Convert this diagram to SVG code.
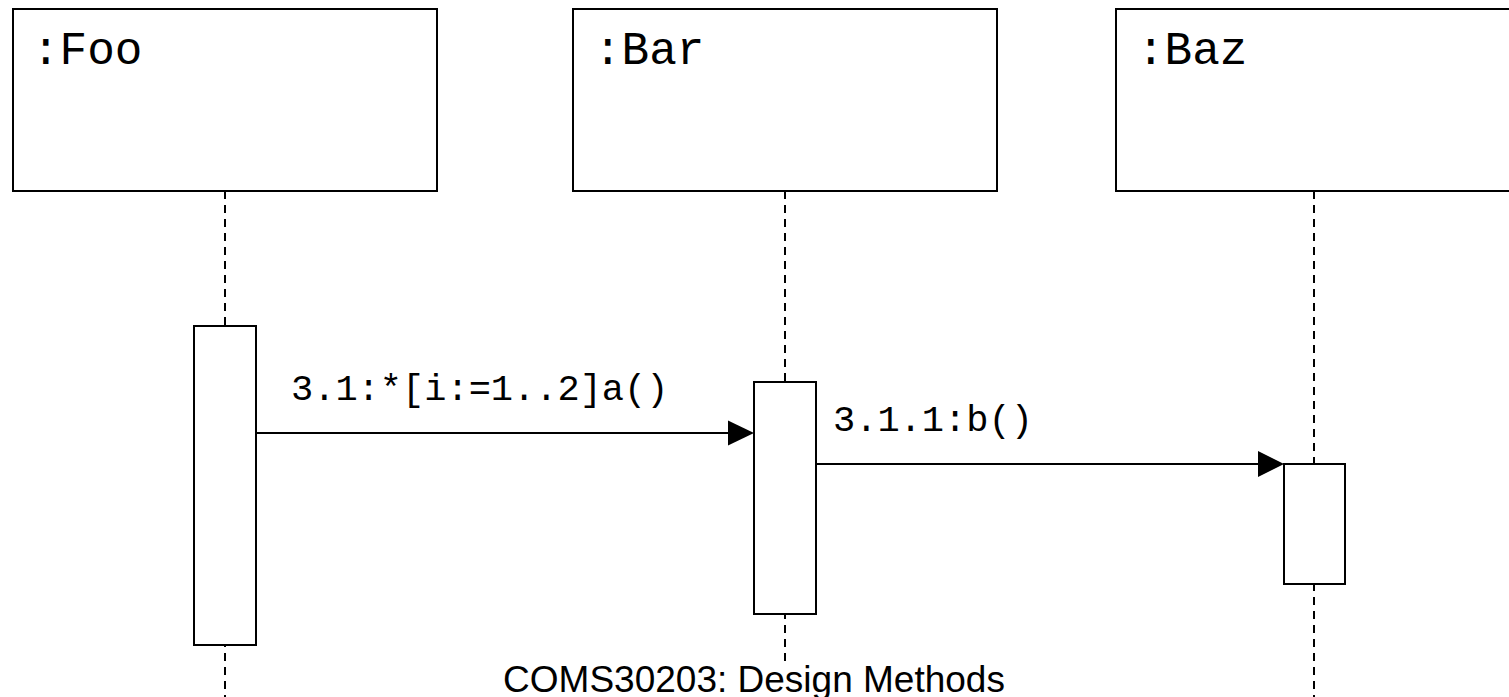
<svg xmlns="http://www.w3.org/2000/svg" width="1509" height="697" viewBox="0 0 1509 697">
  <style>
    .box { fill: #ffffff; stroke: #000000; stroke-width: 2; }
    .life { stroke: #000000; stroke-width: 2; stroke-dasharray: 8 6; fill: none; }
    .msg { stroke: #000000; stroke-width: 2; fill: none; }
    .head { fill: #000000; stroke: none; }
    .name { font-family: "Liberation Mono", "Courier New", monospace; font-size: 46px; fill: #000000; }
    .label { font-family: "Liberation Mono", "Courier New", monospace; font-size: 37px; fill: #000000; }
    .footer { font-family: "Liberation Sans", Arial, sans-serif; font-size: 37px; fill: #000000; }
  </style>
  <rect x="0" y="0" width="1509" height="697" fill="#ffffff"/>
  <g id="lifelines">
    <line class="life" x1="225" y1="191" x2="225" y2="697"/>
    <line class="life" x1="785" y1="191" x2="785" y2="662"/>
    <line class="life" x1="1314" y1="191" x2="1314" y2="697"/>
  </g>
  <g id="node-foo">
    <rect class="box" x="13" y="9" width="424" height="182"/>
    <text class="name" x="32" y="64">:Foo</text>
  </g>
  <g id="node-bar">
    <rect class="box" x="573" y="9" width="424" height="182"/>
    <text class="name" x="594" y="64">:Bar</text>
  </g>
  <g id="node-baz">
    <rect class="box" x="1116" y="9" width="420" height="182"/>
    <text class="name" x="1137" y="64">:Baz</text>
  </g>
  <g id="activation-foo">
    <rect class="box" x="194" y="326" width="62" height="319"/>
  </g>
  <g id="activation-bar">
    <rect class="box" x="754" y="382" width="62" height="232"/>
  </g>
  <g id="activation-baz">
    <rect class="box" x="1284" y="464" width="61" height="120"/>
  </g>
  <g id="connectors">
    <line class="msg" x1="256" y1="433" x2="730" y2="433"/>
    <polygon class="head" points="728,420.5 754,433 728,445.5"/>
    <text class="label" x="291" y="400">3.1:*[i:=1..2]a()</text>
    <line class="msg" x1="816" y1="464" x2="1260" y2="464"/>
    <polygon class="head" points="1258,451 1284,464 1258,477"/>
    <text class="label" x="833" y="431">3.1.1:b()</text>
  </g>
  <text class="footer" x="754" y="692" text-anchor="middle">COMS30203: Design Methods</text>
</svg>
